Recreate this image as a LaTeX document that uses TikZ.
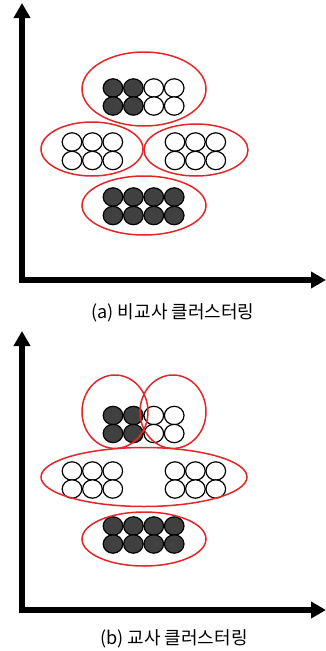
\documentclass[tikz,border=0pt]{standalone}
\usepackage{fontspec}
\setmainfont{Noto Sans CJK KR}
\usetikzlibrary{arrows.meta}
\definecolor{redline}{HTML}{E3262A}
\definecolor{darkfill}{HTML}{404040}
\tikzset{
  axis/.style={line width=5.5pt, line join=miter, {Triangle[length=15pt,width=16pt]}-{Triangle[length=15pt,width=16pt]}},
  cluster/.style={draw=redline, line width=1.5pt},
  caption/.style={font=\fontsize{18pt}{20pt}\selectfont, inner sep=0pt}
}
\newcommand{\ballrow}[4]{% x0, y, count, fill
  \foreach \i in {1,...,#3}{
    \filldraw[draw=black, line width=1.2pt, fill=#4] ({#1+(\i-1)*20.4},#2) ellipse[x radius=9.8pt, y radius=9.2pt];
  }
}
\begin{document}
\begin{tikzpicture}[x=1pt,y=-1pt]
\useasboundingbox (0,0) rectangle (326,651);
% ---------- panel (a)
\coordinate (ytipA) at (22,3);
\coordinate (oA) at (22,280);
\coordinate (xtipA) at (326,280);
\draw[axis] (ytipA) -- (oA) -- (xtipA);
% top cluster
\ballrow{113}{88}{2}{darkfill}
\ballrow{153.8}{88}{2}{white}
\ballrow{113}{106}{2}{darkfill}
\ballrow{153.8}{106}{2}{white}
% middle clusters
\ballrow{72}{142}{3}{white}
\ballrow{72}{160.5}{3}{white}
\ballrow{175}{142}{3}{white}
\ballrow{175}{160.5}{3}{white}
% bottom cluster
\ballrow{113}{197}{4}{darkfill}
\ballrow{113}{215.5}{4}{darkfill}
% red ellipses
\draw[cluster] (144,89) ellipse[x radius=62pt, y radius=37pt];
\draw[cluster] (92,149) ellipse[x radius=51pt, y radius=27pt];
\draw[cluster] (196,150) ellipse[x radius=52pt, y radius=26pt];
\draw[cluster] (144,205.5) ellipse[x radius=62pt, y radius=29.5pt];
\node[caption] (capA) at (173,313) {(a) 비교사 클러스터링};
% ---------- panel (b)
\coordinate (ytipB) at (22,331);
\coordinate (oB) at (22,610);
\coordinate (xtipB) at (326,610);
\draw[axis] (ytipB) -- (oB) -- (xtipB);
\ballrow{113}{415.5}{2}{darkfill}
\ballrow{153.8}{415.5}{2}{white}
\ballrow{113}{433.5}{2}{darkfill}
\ballrow{153.8}{433.5}{2}{white}
\ballrow{72}{471}{3}{white}
\ballrow{72}{489}{3}{white}
\ballrow{175}{471}{3}{white}
\ballrow{175}{489}{3}{white}
\ballrow{113}{526}{4}{darkfill}
\ballrow{113}{544}{4}{darkfill}
\draw[cluster] (115,411.7) ellipse[x radius=33pt, y radius=36.7pt];
\draw[cluster] (173,411.7) ellipse[x radius=33pt, y radius=36.7pt];
\draw[cluster] (144,477) ellipse[x radius=103pt, y radius=29.5pt];
\draw[cluster] (144,539) ellipse[x radius=62pt, y radius=27pt];
\node[caption] (capB) at (174,639) {(b) 교사 클러스터링};
\end{tikzpicture}
\end{document}
